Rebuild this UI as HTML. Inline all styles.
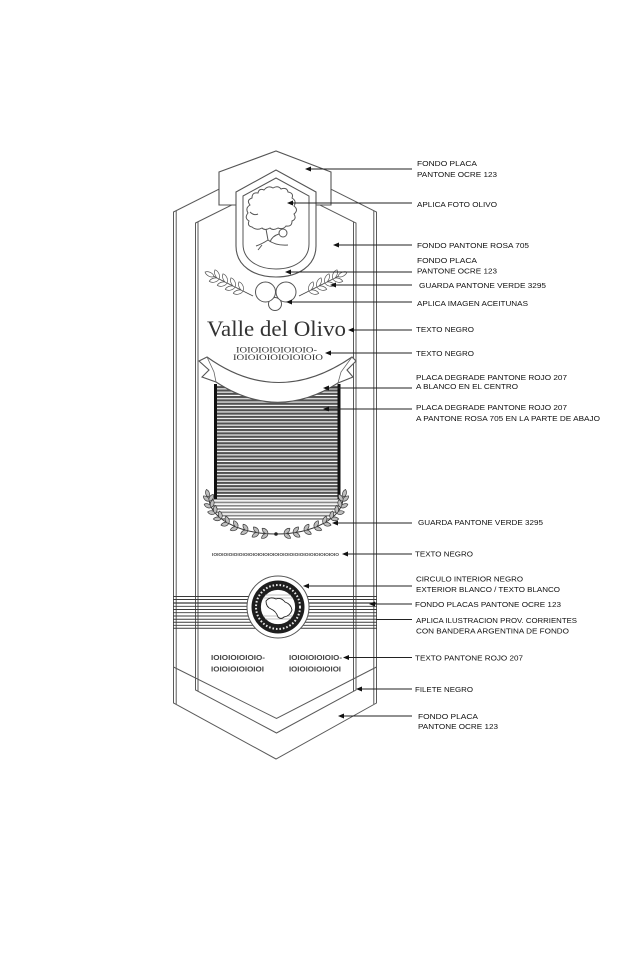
<!DOCTYPE html>
<html>
<head>
<meta charset="utf-8">
<style>
  html,body{margin:0;padding:0;background:#fff;}
  svg{display:block;}
  .lb{font-family:"Liberation Sans",sans-serif;font-size:7.6px;fill:#111;}
</style>
</head>
<body>
<svg width="640" height="960" viewBox="0 0 640 960" xmlns="http://www.w3.org/2000/svg">
  <defs>
    <pattern id="st" width="6" height="3.3" patternUnits="userSpaceOnUse">
      <rect width="6" height="3.3" fill="#ffffff"/>
      <rect width="6" height="2.2" fill="#525252"/>
    </pattern>
    <pattern id="st2" width="6" height="3.3" patternUnits="userSpaceOnUse">
      <rect width="6" height="3.3" fill="#ffffff"/>
      <rect width="6" height="1.7" fill="#888"/>
    </pattern>
    <path id="lf" d="M0,0 C1.5,-2.4 5.5,-2.6 7.8,0 C5.5,2.6 1.5,2.4 0,0Z" fill="#bdbdbd" stroke="#3a3a3a" stroke-width="0.7"/>
    <path id="lf2" d="M0,0 C2,-2.6 7.5,-2.8 10,0 C7.5,2.8 2,2.6 0,0Z" fill="#fff" stroke="#555" stroke-width="0.7"/>
    <clipPath id="disc"><circle cx="278" cy="607" r="17.5"/></clipPath>
  </defs>

  <!-- outer frame -->
  <g fill="none" stroke="#5a5a5a" stroke-width="1">
    <path d="M173.5,212 L275,161 L376.5,212 L376.5,703 L276,759 L173.5,703 Z"/>
    <line x1="176.2" y1="211" x2="176.2" y2="704"/>
    <line x1="373.8" y1="211" x2="373.8" y2="704"/>
    <path d="M195.5,223 L276,183 L356,223 L356,690 L276.5,733 L195.5,690 Z"/>
    <line x1="198" y1="222" x2="198" y2="691"/>
    <line x1="353.5" y1="222" x2="353.5" y2="691"/>
    <polyline points="173.5,667 276.5,718.5 376.5,667"/>
  </g>

  <!-- top plate -->
  <polygon points="219,205 219,172 276,151 331,172 331,205" fill="#fff" stroke="#555" stroke-width="1.1"/>

  <!-- shield -->
  <path d="M236,192 L276,170 L316,192 L316,246 C316,266 298,277 276,277 C254,277 236,266 236,246 Z" fill="#fff" stroke="#555" stroke-width="1.1"/>
  <path d="M243,196 L276,178 L309,196 L309,244 C309,260 294,269 276,269 C258,269 243,260 243,244 Z" fill="none" stroke="#555" stroke-width="1"/>

  <!-- tree -->
  <g fill="none" stroke="#555" stroke-width="1">
    <path d="M252,227 Q247,226 249,221 Q244,218 248,213 Q245,208 250,205 Q246,200 252,198 Q252,192 258,193 Q259,188 264,190 Q268,185 273,188 Q278,185 281,189 Q287,187 288,192 Q294,193 292,198 Q297,201 294,206 Q299,210 294,214 Q297,219 292,221 Q292,227 286,226 Q283,230 278,228 Q273,231 270,228 Q265,231 262,228 Q257,231 252,227 Z"/>
    <path d="M266,229 L268,240 Q262,244 256,246 M268,240 Q276,246 288,245 M262,245 L258,250 M270,242 Q272,236 279,234 M250,212 Q254,216 258,214"/>
    <circle cx="283" cy="233" r="4"/>
  </g>

  <!-- olive branches -->
  <g fill="none" stroke="#444" stroke-width="0.8">
    <line x1="253" y1="296" x2="213" y2="276"/>
    <line x1="299" y1="296" x2="339" y2="276"/>
  </g>
  <use href="#lf2" transform="translate(243,291) rotate(166.6)"/>
  <use href="#lf2" transform="translate(243,291) rotate(246.6)"/>
  <use href="#lf2" transform="translate(235,287) rotate(166.6)"/>
  <use href="#lf2" transform="translate(235,287) rotate(246.6)"/>
  <use href="#lf2" transform="translate(227,283) rotate(166.6)"/>
  <use href="#lf2" transform="translate(227,283) rotate(246.6)"/>
  <use href="#lf2" transform="translate(219,279) rotate(166.6)"/>
  <use href="#lf2" transform="translate(219,279) rotate(246.6)"/>
  <use href="#lf2" transform="translate(214,276.5) rotate(206.6)"/>
  <use href="#lf2" transform="translate(309,291) rotate(13.4)"/>
  <use href="#lf2" transform="translate(309,291) rotate(-66.6)"/>
  <use href="#lf2" transform="translate(317,287) rotate(13.4)"/>
  <use href="#lf2" transform="translate(317,287) rotate(-66.6)"/>
  <use href="#lf2" transform="translate(325,283) rotate(13.4)"/>
  <use href="#lf2" transform="translate(325,283) rotate(-66.6)"/>
  <use href="#lf2" transform="translate(333,279) rotate(13.4)"/>
  <use href="#lf2" transform="translate(333,279) rotate(-66.6)"/>
  <use href="#lf2" transform="translate(338,276.5) rotate(-26.6)"/>

  <!-- olives -->
  <g fill="#fff" stroke="#555" stroke-width="1">
    <circle cx="275" cy="304" r="6.5"/>
    <circle cx="265.5" cy="292" r="10"/>
    <circle cx="286" cy="292" r="10"/>
  </g>

  <!-- title -->
  <text x="207" y="336" font-family="Liberation Serif, serif" font-size="22.5" fill="#333" textLength="139" lengthAdjust="spacingAndGlyphs">Valle del Olivo</text>
  <text x="236" y="352.6" font-family="Liberation Serif, serif" font-size="8.6" fill="#333" textLength="81" lengthAdjust="spacingAndGlyphs">IOIOIOIOIOIOIO-</text>
  <text x="233" y="360.2" font-family="Liberation Serif, serif" font-size="8.6" fill="#333" textLength="90" lengthAdjust="spacingAndGlyphs">IOIOIOIOIOIOIOIO</text>

  <!-- striped panel -->
  <rect x="215" y="385" width="125" height="113.5" fill="url(#st)"/>
  <path d="M209,498 A67,36 0 0 0 224.5,521 L327.5,521 A67,36 0 0 0 343,498 Z" fill="url(#st2)"/>
  <rect x="214" y="384" width="3" height="115" fill="#111"/>
  <rect x="337.5" y="384" width="3" height="115" fill="#111"/>

  <!-- ribbon -->
  <path d="M207,357 Q278,408 352,357 L356,361 L347,370 L353,377 L338,383 Q277,422 216,382 L202,377 L209,370 L199,361 Z" fill="#fff" stroke="#555" stroke-width="1.1"/>
  <path d="M207,357 L214,372 L216,382 M352,357 L341,372 L338,383" fill="none" stroke="#666" stroke-width="0.8"/>

  <!-- wreath -->
  <path d="M209,498 A67,36 0 0 0 343,498" fill="none" stroke="#333" stroke-width="1"/>
  <g>
    <use href="#lf" transform="translate(208.5,497) rotate(255)"/>
    <use href="#lf" transform="translate(209.3,501.1) rotate(220.7)"/>
    <use href="#lf" transform="translate(209.3,501.1) rotate(300.7)"/>
    <use href="#lf" transform="translate(211.3,507.3) rotate(203.5)"/>
    <use href="#lf" transform="translate(211.3,507.3) rotate(283.5)"/>
    <use href="#lf" transform="translate(215.3,513.2) rotate(189)"/>
    <use href="#lf" transform="translate(215.3,513.2) rotate(269)"/>
    <use href="#lf" transform="translate(221.1,518.7) rotate(177.5)"/>
    <use href="#lf" transform="translate(221.1,518.7) rotate(257.5)"/>
    <use href="#lf" transform="translate(228.6,523.5) rotate(168.3)"/>
    <use href="#lf" transform="translate(228.6,523.5) rotate(248.3)"/>
    <use href="#lf" transform="translate(237.6,527.5) rotate(160.6)"/>
    <use href="#lf" transform="translate(237.6,527.5) rotate(240.6)"/>
    <use href="#lf" transform="translate(247.7,530.6) rotate(154.1)"/>
    <use href="#lf" transform="translate(247.7,530.6) rotate(234.1)"/>
    <use href="#lf" transform="translate(258.7,532.8) rotate(148.2)"/>
    <use href="#lf" transform="translate(258.7,532.8) rotate(228.2)"/>
    <use href="#lf" transform="translate(267.8,533.7) rotate(143.8)"/>
    <use href="#lf" transform="translate(267.8,533.7) rotate(223.8)"/>

    <use href="#lf" transform="translate(343.5,497) rotate(-75)"/>
    <use href="#lf" transform="translate(342.7,501.1) rotate(-40.7)"/>
    <use href="#lf" transform="translate(342.7,501.1) rotate(-120.7)"/>
    <use href="#lf" transform="translate(340.7,507.3) rotate(-23.5)"/>
    <use href="#lf" transform="translate(340.7,507.3) rotate(-103.5)"/>
    <use href="#lf" transform="translate(336.7,513.2) rotate(-9)"/>
    <use href="#lf" transform="translate(336.7,513.2) rotate(-89)"/>
    <use href="#lf" transform="translate(330.9,518.7) rotate(2.5)"/>
    <use href="#lf" transform="translate(330.9,518.7) rotate(-77.5)"/>
    <use href="#lf" transform="translate(323.4,523.5) rotate(11.7)"/>
    <use href="#lf" transform="translate(323.4,523.5) rotate(-68.3)"/>
    <use href="#lf" transform="translate(314.4,527.5) rotate(19.4)"/>
    <use href="#lf" transform="translate(314.4,527.5) rotate(-60.6)"/>
    <use href="#lf" transform="translate(304.3,530.6) rotate(25.9)"/>
    <use href="#lf" transform="translate(304.3,530.6) rotate(-54.1)"/>
    <use href="#lf" transform="translate(293.3,532.8) rotate(31.8)"/>
    <use href="#lf" transform="translate(293.3,532.8) rotate(-48.2)"/>
    <use href="#lf" transform="translate(284.2,533.7) rotate(36.2)"/>
    <use href="#lf" transform="translate(284.2,533.7) rotate(-43.8)"/>
    <circle cx="276" cy="534" r="1.8" fill="#222"/>
  </g>

  <!-- tiny text -->
  <text x="212" y="556" font-family="Liberation Sans, sans-serif" font-size="4.8" font-weight="bold" fill="#444" textLength="127" lengthAdjust="spacingAndGlyphs">IOIOIOIOIOIOIOIOIOIOIOIOIOIOIOIOIOIOIOIOIOIOIOIOIO</text>

  <!-- band lines -->
  <g stroke="#3a3a3a">
    <line x1="173" y1="596.5" x2="377" y2="596.5" stroke-width="1"/>
    <line x1="173" y1="599.5" x2="377" y2="599.5" stroke-width="0.9"/>
    <line x1="173" y1="603" x2="377" y2="603" stroke-width="1.2"/>
    <line x1="173" y1="606.3" x2="377" y2="606.3" stroke-width="0.9"/>
    <line x1="173" y1="609.5" x2="377" y2="609.5" stroke-width="1"/>
    <line x1="173" y1="612.7" x2="377" y2="612.7" stroke-width="0.9"/>
    <line x1="173" y1="616" x2="377" y2="616" stroke-width="1.1"/>
    <line x1="173" y1="619.2" x2="377" y2="619.2" stroke-width="1"/>
    <line x1="173" y1="622.3" x2="377" y2="622.3" stroke-width="1"/>
    <line x1="173" y1="625.3" x2="377" y2="625.3" stroke-width="0.9"/>
    <line x1="173" y1="628.3" x2="377" y2="628.3" stroke-width="1"/>
  </g>

  <!-- emblem -->
  <circle cx="278" cy="607" r="31" fill="#fff" stroke="#555" stroke-width="1"/>
  <circle cx="278" cy="607" r="26.5" fill="#1e1e1e"/>
  <circle cx="278" cy="607" r="22" fill="none" stroke="#e8e8e8" stroke-width="2" stroke-dasharray="1.6 1.9"/>
  <circle cx="278" cy="607" r="17.5" fill="#fff" stroke="#222" stroke-width="0.8"/>
  <g clip-path="url(#disc)" stroke="#aaa" stroke-width="0.8">
    <line x1="258" y1="595" x2="298" y2="595"/>
    <line x1="258" y1="598" x2="298" y2="598"/>
    <line x1="258" y1="616" x2="298" y2="616"/>
    <line x1="258" y1="619" x2="298" y2="619"/>
  </g>
  <path d="M266,601 Q270,596 276,599 Q281,597 285,602 Q291,604 292,610 Q290,616 284,617 Q281,620 278,617 Q276,611 271,609 Q266,607 266,601 Z" fill="#fff" stroke="#222" stroke-width="0.9"/>

  <!-- bottom text groups -->
  <g font-family="Liberation Sans, sans-serif" font-size="7.6" font-weight="bold" fill="#444">
    <text x="211" y="660" textLength="54" lengthAdjust="spacingAndGlyphs">IOIOIOIOIOIO-</text>
    <text x="211" y="671.5" textLength="53" lengthAdjust="spacingAndGlyphs">IOIOIOIOIOIOI</text>
    <text x="289" y="660" textLength="53" lengthAdjust="spacingAndGlyphs">IOIOIOIOIOIO-</text>
    <text x="289" y="671.5" textLength="52" lengthAdjust="spacingAndGlyphs">IOIOIOIOIOIOI</text>
  </g>

  <!-- arrows -->
  <g stroke="#222" stroke-width="0.9">
    <line x1="412" y1="169" x2="307" y2="169"/>
    <line x1="412" y1="203" x2="289" y2="203"/>
    <line x1="412" y1="245" x2="335" y2="245"/>
    <line x1="412" y1="272" x2="287" y2="272"/>
    <line x1="412" y1="285" x2="332" y2="285"/>
    <line x1="412" y1="302" x2="288" y2="302"/>
    <line x1="412" y1="330" x2="350" y2="330"/>
    <line x1="412" y1="353" x2="327" y2="353"/>
    <line x1="412" y1="388" x2="325" y2="388"/>
    <line x1="412" y1="409" x2="325" y2="409"/>
    <line x1="412" y1="523" x2="334" y2="523"/>
    <line x1="412" y1="554" x2="344" y2="554"/>
    <line x1="412" y1="586" x2="305" y2="586"/>
    <line x1="412" y1="604" x2="371" y2="604"/>
    <line x1="412" y1="619.5" x2="376" y2="619.5"/>
    <line x1="412" y1="657.5" x2="345" y2="657.5"/>
    <line x1="412" y1="689" x2="358" y2="689"/>
    <line x1="412" y1="716" x2="340" y2="716"/>
  </g>
  <g fill="#111">
    <polygon points="305,169 311,166.5 311,171.5"/>
    <polygon points="287,203 293,200.5 293,205.5"/>
    <polygon points="333,245 339,242.5 339,247.5"/>
    <polygon points="285,272 291,269.5 291,274.5"/>
    <polygon points="330,285 336,282.5 336,287.5"/>
    <polygon points="286,302 292,299.5 292,304.5"/>
    <polygon points="348,330 354,327.5 354,332.5"/>
    <polygon points="325,353 331,350.5 331,355.5"/>
    <polygon points="323,388 329,385.5 329,390.5"/>
    <polygon points="323,409 329,406.5 329,411.5"/>
    <polygon points="332,523 338,520.5 338,525.5"/>
    <polygon points="342,554 348,551.5 348,556.5"/>
    <polygon points="303,586 309,583.5 309,588.5"/>
    <polygon points="369,604 375,601.5 375,606.5"/>
    <polygon points="343,657.5 349,655 349,660"/>
    <polygon points="356,689 362,686.5 362,691.5"/>
    <polygon points="338,716 344,713.5 344,718.5"/>
  </g>

  <!-- labels -->
  <g class="lb">
    <text class="lb" x="417" y="165.8" textLength="60" lengthAdjust="spacingAndGlyphs">FONDO PLACA</text>
    <text class="lb" x="417" y="176.8" textLength="80" lengthAdjust="spacingAndGlyphs">PANTONE OCRE 123</text>
    <text class="lb" x="417" y="206.8" textLength="80" lengthAdjust="spacingAndGlyphs">APLICA FOTO OLIVO</text>
    <text class="lb" x="417" y="247.8" textLength="112" lengthAdjust="spacingAndGlyphs">FONDO PANTONE ROSA 705</text>
    <text class="lb" x="417" y="262.8" textLength="60" lengthAdjust="spacingAndGlyphs">FONDO PLACA</text>
    <text class="lb" x="417" y="273.3" textLength="80" lengthAdjust="spacingAndGlyphs">PANTONE OCRE 123</text>
    <text class="lb" x="419" y="287.8" textLength="127" lengthAdjust="spacingAndGlyphs">GUARDA PANTONE VERDE 3295</text>
    <text class="lb" x="417" y="305.8" textLength="111" lengthAdjust="spacingAndGlyphs">APLICA IMAGEN ACEITUNAS</text>
    <text class="lb" x="416" y="331.8" textLength="58" lengthAdjust="spacingAndGlyphs">TEXTO NEGRO</text>
    <text class="lb" x="416" y="355.8" textLength="58" lengthAdjust="spacingAndGlyphs">TEXTO NEGRO</text>
    <text class="lb" x="416" y="379.8" textLength="151" lengthAdjust="spacingAndGlyphs">PLACA DEGRADE PANTONE ROJO 207</text>
    <text class="lb" x="416" y="388.8" textLength="102" lengthAdjust="spacingAndGlyphs">A BLANCO EN EL CENTRO</text>
    <text class="lb" x="416" y="409.8" textLength="151" lengthAdjust="spacingAndGlyphs">PLACA DEGRADE PANTONE ROJO 207</text>
    <text class="lb" x="416" y="420.8" textLength="184" lengthAdjust="spacingAndGlyphs">A PANTONE ROSA 705 EN LA PARTE DE ABAJO</text>
    <text class="lb" x="418" y="524.8" textLength="125" lengthAdjust="spacingAndGlyphs">GUARDA PANTONE VERDE 3295</text>
    <text class="lb" x="415" y="556.3" textLength="58" lengthAdjust="spacingAndGlyphs">TEXTO NEGRO</text>
    <text class="lb" x="416" y="581.3" textLength="107" lengthAdjust="spacingAndGlyphs">CIRCULO INTERIOR NEGRO</text>
    <text class="lb" x="416" y="591.8" textLength="144" lengthAdjust="spacingAndGlyphs">EXTERIOR BLANCO / TEXTO BLANCO</text>
    <text class="lb" x="415" y="606.8" textLength="146" lengthAdjust="spacingAndGlyphs">FONDO PLACAS PANTONE OCRE 123</text>
    <text class="lb" x="416" y="622.8" textLength="161" lengthAdjust="spacingAndGlyphs">APLICA ILUSTRACION PROV. CORRIENTES</text>
    <text class="lb" x="416" y="633.3" textLength="153" lengthAdjust="spacingAndGlyphs">CON BANDERA ARGENTINA DE FONDO</text>
    <text class="lb" x="415" y="660.3" textLength="108" lengthAdjust="spacingAndGlyphs">TEXTO PANTONE ROJO 207</text>
    <text class="lb" x="415" y="691.8" textLength="58" lengthAdjust="spacingAndGlyphs">FILETE NEGRO</text>
    <text class="lb" x="418" y="718.8" textLength="60" lengthAdjust="spacingAndGlyphs">FONDO PLACA</text>
    <text class="lb" x="418" y="728.8" textLength="80" lengthAdjust="spacingAndGlyphs">PANTONE OCRE 123</text>
  </g>
</svg>
</body>
</html>
